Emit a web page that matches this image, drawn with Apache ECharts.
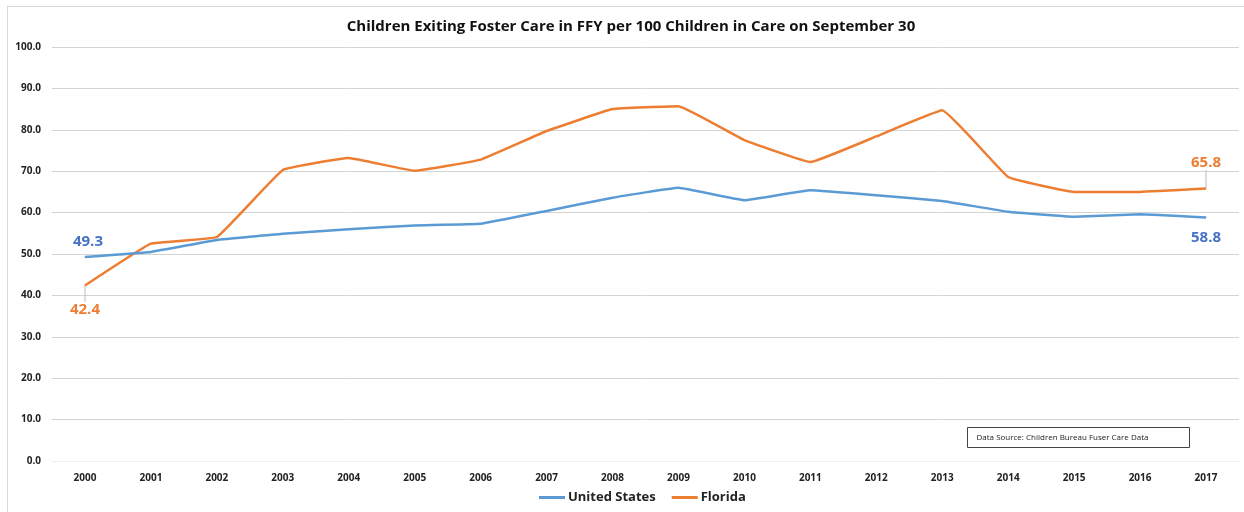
<!DOCTYPE html>
<html lang="en">
<head>
    <meta charset="UTF-8">
    <title>Children Exiting Foster Care</title>
    <script src="https://cdn.jsdelivr.net/npm/echarts@6/dist/echarts.min.js"></script>
    <style>
        html, body{
            margin: 0;
            background: #fff;
        }
        #frame{
            position: absolute;
            left: 7px;
            top: 6px;
            width: 1250px;
            height: 520px;
            border: 1px solid #d9d9d9;
        }
        #chart{
            position: absolute;
            left: 0;
            top: 0;
            width: 1244px;
            height: 512px;
        }
    </style>
</head>
<body>
<div id="frame"></div>
<div id="chart"></div>
<script>
    var years = ['2000','2001','2002','2003','2004','2005','2006','2007','2008',
                 '2009','2010','2011','2012','2013','2014','2015','2016','2017'];
    var unitedStates = [49.3, 50.5, 53.4, 54.9, 56.0, 56.9, 57.3, 60.4, 63.6,
                        66.0, 63.0, 65.4, 64.2, 62.8, 60.2, 59.0, 59.6, 58.8];
    var florida = [42.4, 52.5, 54.1, 70.3, 73.2, 70.1, 72.8, 79.7, 85.0,
                   85.7, 77.5, 72.2, 78.4, 84.7, 68.6, 65.0, 65.0, 65.8];

    var font = 'Open Sans, Liberation Sans, sans-serif';

    // first and last points carry value labels
    function withEndLabels(vals, color, firstPos, lastPos){
        return vals.map(function(v, i){
            if(i === 0 || i === vals.length - 1){
                return {
                    value: v,
                    label: {
                        show: true,
                        position: i === 0 ? firstPos : lastPos,
                        distance: 8,
                        color: color,
                        fontSize: 15,
                        fontWeight: 'bold',
                        fontFamily: font
                    }
                };
            }
            return v;
        });
    }

    var chart = echarts.init(document.getElementById('chart'));
    chart.setOption({
        animation: false,
        title: {
            text: 'Children Exiting Foster Care in FFY per 100 Children in Care on September 30',
            left: 626,
            textAlign: 'center',
            top: 14,
            textStyle: {fontSize: 15, fontWeight: 'bold', color: '#111', fontFamily: font}
        },
        legend: {
            bottom: 3,
            left: 534,
            itemWidth: 26,
            itemHeight: 3,
            itemGap: 16,
            icon: 'rect',
            textStyle: {fontSize: 13, fontWeight: 'bold', color: '#222', fontFamily: font, padding: [0, 0, 0, -2]},
            data: ['United States', 'Florida']
        },
        grid: {left: 52, right: 5, top: 47, bottom: 51},
        xAxis: {
            type: 'category',
            data: years,
            boundaryGap: true,
            axisLine: {show: true, lineStyle: {color: '#eeeeee'}},
            axisTick: {show: false},
            axisLabel: {fontSize: 10, fontWeight: 'bold', color: '#222', margin: 12, fontFamily: font}
        },
        yAxis: {
            type: 'value',
            min: 0,
            max: 100,
            interval: 10,
            axisLine: {show: false},
            axisTick: {show: false},
            axisLabel: {
                fontSize: 10, fontWeight: 'bold', color: '#222', margin: 11, fontFamily: font,
                formatter: function(v){ return v.toFixed(1); }
            },
            splitLine: {lineStyle: {color: '#d4d4d4', width: 1}}
        },
        series: [
            {
                name: 'United States',
                type: 'line',
                smooth: 0.08,
                symbol: 'circle',
                symbolSize: 1,
                showSymbol: true,
                color: '#5b9bd5',
                lineStyle: {width: 2.5, color: '#5b9bd5'},
                data: withEndLabels(unitedStates, '#4472c4', 'top', 'bottom'),
                labelLayout: function(p){
                    return p.dataIndex === 0 ? {dx: 3, dy: 1} : {dy: 4};
                },
                z: 3
            },
            {
                name: 'Florida',
                type: 'line',
                smooth: 0.08,
                symbol: 'circle',
                symbolSize: 1,
                showSymbol: true,
                color: '#ed7d31',
                lineStyle: {width: 2.5, color: '#ed7d31'},
                data: withEndLabels(florida, '#ed7d31', 'bottom', 'top'),
                labelLayout: function(p){
                    return p.dataIndex === 0 ? {dy: 8} : {dy: -10};
                },
                labelLine: {show: true, lineStyle: {color: '#bbbbbb', width: 1}},
                z: 2
            }
        ],
        graphic: [{
            type: 'group',
            right: 54,
            bottom: 64,
            children: [
                {
                    type: 'rect',
                    shape: {x: 0, y: 0, width: 222, height: 20},
                    style: {fill: '#fff', stroke: '#444', lineWidth: 1}
                },
                {
                    type: 'text',
                    left: 9,
                    top: 6,
                    style: {
                        text: 'Data Source: Children Bureau Fuser Care Data',
                        fontSize: 8,
                        fill: '#222',
                        fontFamily: font
                    }
                }
            ]
        }]
    });
</script>
</body>
</html>
